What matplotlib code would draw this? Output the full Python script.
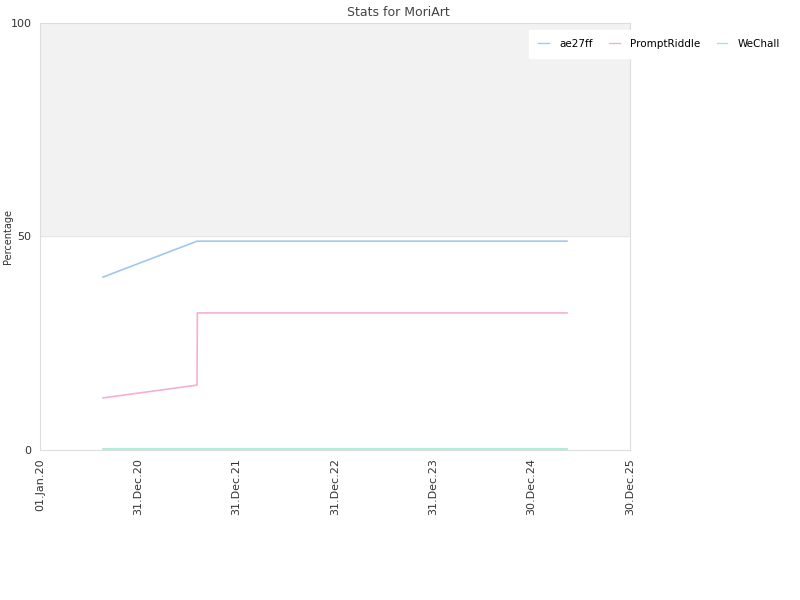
#!/usr/bin/env python3
import matplotlib
matplotlib.use('Agg')
import matplotlib.pyplot as plt
import numpy as np
from datetime import date, timedelta

dates = [date(2020, 8, 22), date(2021, 8, 6), date(2021, 8, 7), date(2025, 5, 10)]
ae27ff = [40.5, 48.9, 48.9, 48.9]
prompt_riddle = [12.2, 15.2, 32.1, 32.1]
wechall = [0.3, 0.3, 0.3, 0.3]

tick_labels = ['01.Jan.20', '31.Dec.20', '31.Dec.21', '31.Dec.22',
               '31.Dec.23', '30.Dec.24', '30.Dec.25']
tick_dates = [date(2020, 1, 1) + timedelta(days=365 * i) for i in range(7)]

plt.rcParams['font.family'] = 'DejaVu Sans'
fig = plt.figure(figsize=(8, 6), dpi=100)
ax = fig.add_axes([0.05, 0.25, 0.7375, 0.7117])

ax.axhspan(50, 100, color='#f2f2f2', zorder=0)
ax.axhline(50, color='#e6e6e6', lw=0.8, zorder=0.5)
ax.plot(dates, ae27ff, color='#9fc8f0', lw=1.2, label='ae27ff')
ax.plot(dates, prompt_riddle, color='#f5afd5', lw=1.2, label='PromptRiddle')
ax.plot(dates, wechall, color='#9eecd0', lw=1.2, label='WeChall')

ax.set_xlim(tick_dates[0], tick_dates[-1])
ax.set_ylim(0, 100)
ax.set_xticks(tick_dates)
ax.set_xticklabels(tick_labels, rotation=90, fontsize=8, color='#333333')
ax.set_yticks([0, 50, 100])
ax.set_yticklabels(['0', '50', '100'], fontsize=8, color='#333333')
ax.tick_params(length=0, pad=6)
for s in ax.spines.values():
    s.set_color('#dddddd')
fig.text(0.01, 0.605, 'Percentage', fontsize=7, color='#333333',
         rotation=90, ha='center', va='center')
fig.text(0.4975, 0.98, 'Stats for MoriArt', fontsize=9, color='#444444',
         ha='center', va='center')

leg = ax.legend(loc='upper left', bbox_to_anchor=(0.834, 0.977), ncol=3,
                fontsize=7.5, frameon=True, handlelength=1.0, columnspacing=1.6,
                borderpad=0.6, handletextpad=1.0, borderaxespad=0)
leg.get_frame().set_facecolor('white')
leg.get_frame().set_edgecolor('white')
leg.get_frame().set_alpha(1)
leg.get_frame().set_boxstyle('square')
for h in leg.get_lines():
    h.set_linewidth(1.0)

fig.savefig('out.png', dpi=100)
